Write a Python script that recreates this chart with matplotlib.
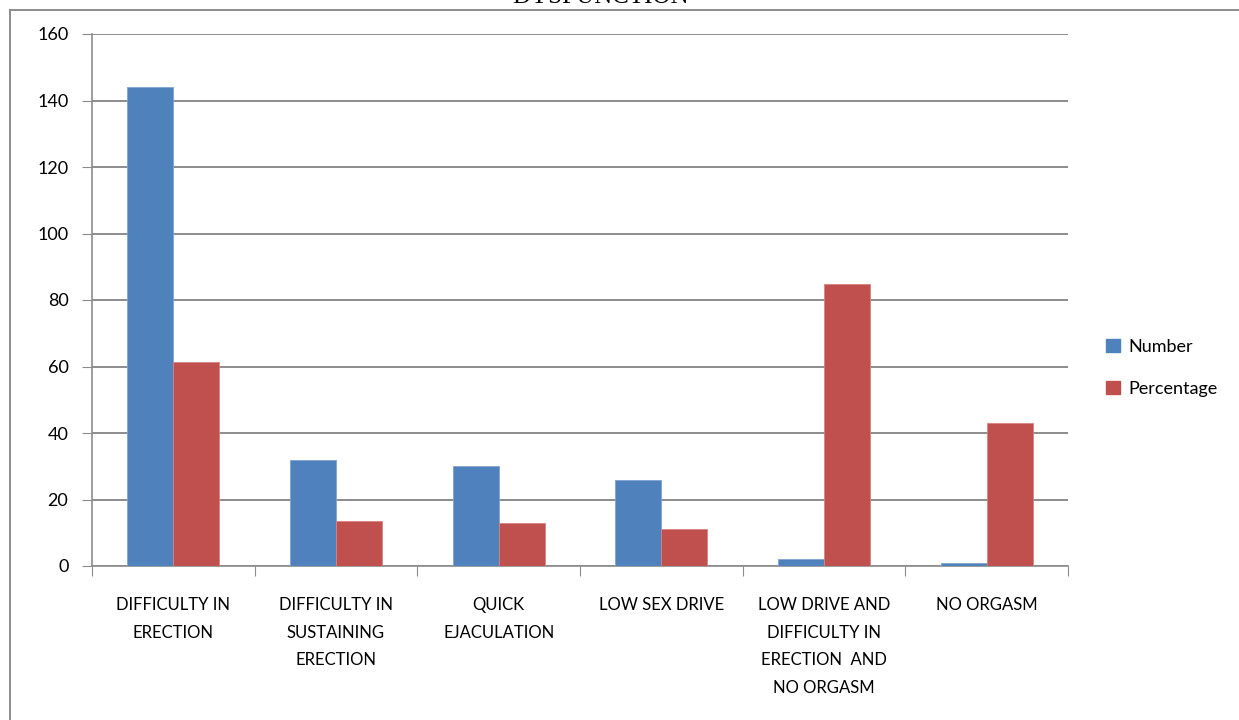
import matplotlib.pyplot as plt
import numpy as np
from matplotlib.lines import Line2D
from matplotlib.patches import Patch

categories = ['DIFFICULTY IN\nERECTION', 'DIFFICULTY IN\nSUSTAINING\nERECTION',
              'QUICK\nEJACULATION', 'LOW SEX DRIVE',
              'LOW DRIVE AND\nDIFFICULTY IN\nERECTION  AND\nNO ORGASM', 'NO ORGASM']
number = [144, 32, 30, 26, 2, 1]
percentage = [61.3, 13.6, 12.8, 11.1, 84.8, 43.0]
y_ticks = [0, 20, 40, 60, 80, 100, 120, 140, 160]

plt.rcParams['font.family'] = ['Lato', 'DejaVu Sans']

fig = plt.figure(figsize=(12.39, 7.2), dpi=100)
ax = fig.add_axes([92 / 1239, 1 - 566 / 720, 976 / 1239, 532 / 720])

x = np.arange(len(categories))
w = 0.283
ax.bar(x - w / 2, number, w, color='#4F81BD', edgecolor='#7FA3D0', linewidth=0.6,
       label='Number', zorder=3)
ax.bar(x + w / 2, percentage, w, color='#C0504D', edgecolor='#D98280', linewidth=0.6,
       label='Percentage', zorder=3)

ax.set_xlim(-0.5, len(categories) - 0.5)
ax.set_ylim(0, 160)
ax.set_yticks(y_ticks)
ax.yaxis.grid(True, color='#8C8C8C', linewidth=1.4, zorder=0)
ax.tick_params(axis='y', direction='out', length=7, color='#8C8C8C', labelsize=13,
               pad=10)

ax.set_xticks(np.arange(len(categories) + 1) - 0.5, minor=False)
ax.set_xticklabels([])
ax.tick_params(axis='x', which='major', direction='out', length=7, color='#8C8C8C')

for s in ['top', 'right']:
    ax.spines[s].set_visible(False)
for s in ['left', 'bottom']:
    ax.spines[s].set_color('#8C8C8C')
    ax.spines[s].set_linewidth(1.2)

# category labels drawn as text under each group
for xi, lab in zip(x, categories):
    ax.annotate(lab, (xi, 0), xycoords=('data', 'axes fraction'),
                xytext=(0, -31), textcoords='offset pixels', ha='center', va='top',
                fontsize=12, linespacing=1.9)

# outer chart frame (top and left edges only are inside the picture)
fy = 1 - 10 / 720
fx = 10 / 1239
fig.add_artist(Line2D([fx, 1.05], [fy, fy], transform=fig.transFigure,
                      color='#8C8C8C', linewidth=1.4))
fig.add_artist(Line2D([fx, fx], [-0.05, fy], transform=fig.transFigure,
                      color='#8C8C8C', linewidth=1.4))
fig.text(600 / 1239, 1 - 3 / 720, 'DYSFUNCTION', family='Liberation Serif',
         fontsize=18, ha='center', va='baseline')

handles = [Patch(color='#4F81BD', label='Number'),
           Patch(color='#C0504D', label='Percentage')]
fig.legend(handles=handles, loc='center left', bbox_to_anchor=(1090 / 1239, 1 - 368 / 720),
           frameon=False, fontsize=13, handlelength=0.75, handleheight=0.75,
           labelspacing=1.45, handletextpad=0.5)

fig.savefig('out.png', dpi=100)
